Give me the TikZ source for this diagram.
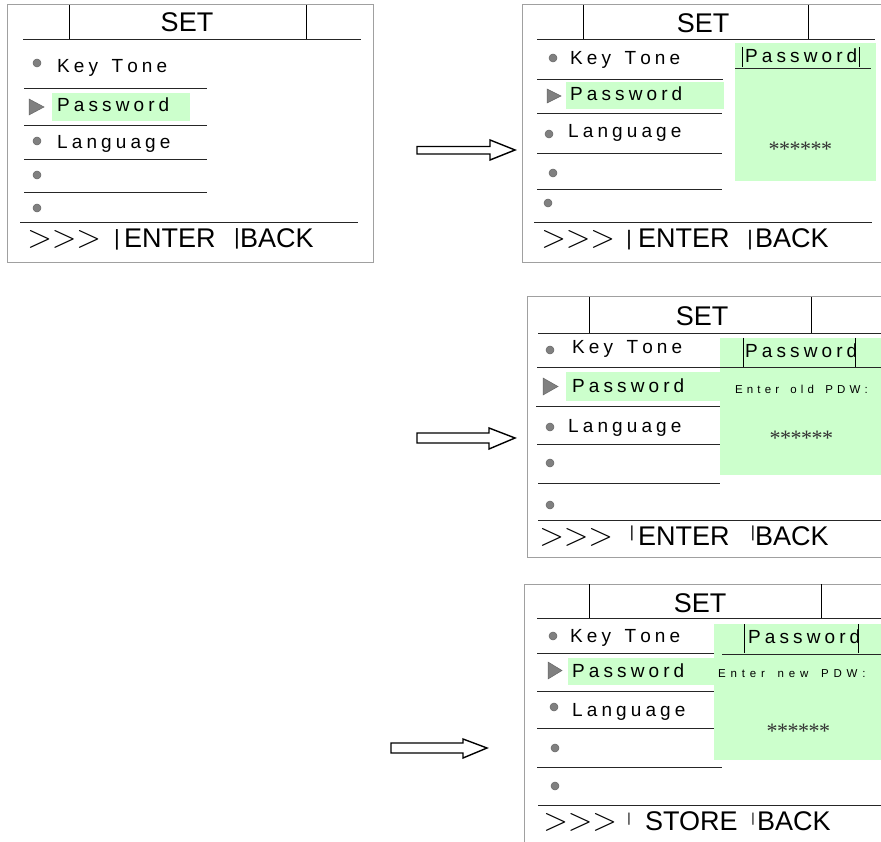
\documentclass[tikz,border=0pt]{standalone}
\usepackage{fontspec}
\setmainfont{Liberation Sans}
\newfontfamily\arialf{Liberation Sans}
\newfontfamily\timesf{Liberation Serif}
\newdimen\trkd
\def\spaced#1#2{\trkd=#1\relax\spcloop#2\relax}
\def\spcloop#1{\ifx#1\relax\else#1\kern\trkd\expandafter\spcloop\fi}
\definecolor{hl}{HTML}{CCFFCC}
\definecolor{bul}{HTML}{808080}
\definecolor{frm}{HTML}{A0A0A0}
\tikzset{
  menu/.style={anchor=base west, inner sep=0pt, font=\arialf\fontsize{19}{19}\selectfont},
  big/.style={anchor=base west, inner sep=0pt, font=\arialf\fontsize{27}{27}\selectfont},
  ttl/.style={anchor=base, inner sep=0pt, font=\arialf\fontsize{27}{27}\selectfont},
  barsep/.style={anchor=base, inner sep=0pt, font=\arialf\fontsize{#1}{#1}\selectfont},
  chev/.style={anchor=base west, inner sep=0pt, scale=1.3, font=\fontsize{24.88}{24.88}\selectfont},
  small/.style={anchor=base west, inner sep=0pt, font=\arialf\fontsize{11.5}{11.5}\selectfont},
  stars/.style={anchor=base, inner sep=0pt, text=black!80, font=\timesf\fontsize{22}{22}\selectfont},
  frame/.style={draw=frm, line width=1pt},
  rule/.style={draw=black!85, line width=0.9pt},
  thin/.style={draw=black, line width=0.8pt},
  dot/.style={fill=bul, draw=black!60, line width=0.5pt},
  hlbox/.style={fill=hl},
  bigarrow/.style={draw=black, line width=1.4pt, fill=white, line join=miter}
}
\newcommand\mnukey{\spaced{4.1pt}{Key~Tone}}
\newcommand\mnupw{\spaced{4.1pt}{Password}}
\newcommand\mnulang{\spaced{4.1pt}{Language}}
\newcommand\mnustars{\spaced{-0.5pt}{******}}
\begin{document}
\begin{tikzpicture}[x=1pt,y=-1pt]
\useasboundingbox (0,0) rectangle (881,842);
\fill[white] (0,0) rectangle (881,842);

% ================= Panel 1 =================
\draw[frame] (7,5) rectangle (373,263);
\draw[thin] (69,5) -- (69,39) (306,5) -- (306,39);
\draw[rule] (23,39) -- (361,39);
\node[ttl] (p1set) at (187,32) {SET};
\fill[hlbox] (52,93) rectangle (190,121);
\draw[dot] (37,63) circle (4pt);
\node[menu] (p1key) at (57,73) {\mnukey};
\draw[rule] (24,88) -- (207,88);
\filldraw[dot] (29,99) -- (44,107) -- (29,115) -- cycle;
\node[menu] (p1pw) at (57,112) {\mnupw};
\draw[rule] (24,125) -- (207,125);
\draw[dot] (37,141) circle (4pt);
\node[menu] (p1lang) at (57,149) {\mnulang};
\draw[rule] (24,159) -- (207,159);
\draw[dot] (37,175) circle (4pt);
\draw[rule] (24,192) -- (207,192);
\draw[dot] (37,208) circle (4pt);
\draw[rule] (20,222) -- (358,222);
\node[chev] (p1chev) at (27,248) {${>}{>}{>}$};
\node[barsep=22] (p1s1) at (117,246) {|};
\node[big] (p1enter) at (124,248) {ENTER};
\node[barsep=22] (p1s2) at (237,245) {|};
\node[big] (p1back) at (240,248) {BACK};

% ================= Panel 2 =================
\draw[frame] (881,5) -- (522,5) -- (522,263) -- (881,263);
\draw[thin] (583,5) -- (583,39) (808,5) -- (808,39);
\draw[rule] (537,39) -- (875,39);
\node[ttl] (p2set) at (703,33) {SET};
\fill[hlbox] (566,82) rectangle (724,109);
\draw[dot] (553,58) circle (4pt);
\node[menu] (p2key) at (570,65) {\mnukey};
\draw[rule] (537,79) -- (723,79);
\filldraw[dot] (547,89) -- (561,96) -- (547,103) -- cycle;
\node[menu] (p2pw) at (570,101) {\mnupw};
\draw[rule] (537,113) -- (722,113);
\draw[dot] (549,134) circle (4pt);
\node[menu] (p2lang) at (568,138) {\mnulang};
\draw[rule] (537,153) -- (722,153);
\draw[dot] (553,173) circle (4pt);
\draw[rule] (537,189) -- (722,189);
\draw[dot] (548,203) circle (4pt);
\draw[rule] (534,222) -- (872,222);
\node[chev] (p2chev) at (541,248) {${>}{>}{>}$};
\node[barsep=21] (p2s1) at (629,245.5) {|};
\node[big] (p2enter) at (638,248) {ENTER};
\node[barsep=21] (p2s2) at (750,245.5) {|};
\node[big] (p2back) at (755,248) {BACK};
% popup
\fill[hlbox] (735,43) rectangle (876,181);
\node[menu] (p2ppw) at (745,63) {\mnupw};
\draw[thin] (742,47) -- (742,67) (859,47) -- (859,67);
\draw[rule] (735,68) -- (871,68);
\node[stars] (p2star) at (800,157) {\mnustars};

% ================= Panel 3 =================
\draw[frame] (881,297) -- (527,297) -- (527,557) -- (881,557);
\draw[thin] (589,297) -- (589,333) (811,297) -- (811,333);
\draw[rule] (538,333) -- (881,333);
\node[ttl] (p3set) at (702,326) {SET};
\fill[hlbox] (566,372) rectangle (720,401);
\draw[dot] (550,350) circle (4pt);
\node[menu] (p3key) at (572,353) {\mnukey};
\draw[rule] (537,367) -- (720,367);
\filldraw[dot] (543,378) -- (558,386.5) -- (543,395) -- cycle;
\node[menu] (p3pw) at (572,392) {\mnupw};
\draw[rule] (536,406) -- (720,406);
\draw[dot] (550,427) circle (4pt);
\node[menu] (p3lang) at (568,432) {\mnulang};
\draw[rule] (537,444) -- (720,444);
\draw[dot] (550,463) circle (4pt);
\draw[rule] (538,483) -- (720,483);
\draw[dot] (550,505) circle (4pt);
\draw[rule] (538,520) -- (881,520);
\node[chev] (p3chev) at (539,545) {${>}{>}{>}$};
\node[barsep=16] (p3s1) at (632,537) {|};
\node[big] (p3enter) at (638,545) {ENTER};
\node[barsep=16] (p3s2) at (753,537) {|};
\node[big] (p3back) at (755,545) {BACK};
% popup
\fill[hlbox] (720,338) rectangle (881,475);
\node[menu] (p3ppw) at (745,358) {\mnupw};
\draw[thin] (743,338) -- (743,367) (855,338) -- (855,367);
\draw[rule] (720,367) -- (881,367);
\node[small] (p3old) at (735,393) {\spaced{4.1pt}{Enter~old~PDW:}};
\node[stars] (p3star) at (801,445) {\mnustars};

% ================= Panel 4 =================
\draw[frame] (881,584) -- (524,584) -- (524,842);
\draw[thin] (589,584) -- (589,618) (821,584) -- (821,618);
\draw[rule] (537,618) -- (881,618);
\node[ttl] (p4set) at (700,612) {SET};
\fill[hlbox] (568,658) rectangle (714,685);
\draw[dot] (553,636) circle (4pt);
\node[menu] (p4key) at (570,642) {\mnukey};
\draw[rule] (537,653) -- (714,653);
\filldraw[dot] (548,662) -- (562,670.5) -- (548,679) -- cycle;
\node[menu] (p4pw) at (572,677) {\mnupw};
\draw[rule] (537,691) -- (714,691);
\draw[dot] (554,707) circle (4pt);
\node[menu] (p4lang) at (572,716) {\mnulang};
\draw[rule] (537,728) -- (714,728);
\draw[dot] (555,748) circle (4pt);
\draw[rule] (537,767) -- (722,767);
\draw[dot] (555,786) circle (4pt);
\draw[rule] (538,805) -- (881,805);
\node[chev] (p4chev) at (543,830) {${>}{>}{>}$};
\node[barsep=13] (p4s1) at (629,822) {|};
\node[big] (p4store) at (645,830) {STORE};
\node[barsep=13] (p4s2) at (753,822) {|};
\node[big] (p4back) at (757,830) {BACK};
% popup
\fill[hlbox] (714,624) rectangle (881,760);
\node[menu] (p4ppw) at (748,643) {\mnupw};
\draw[thin] (744,624) -- (744,653) (858,624) -- (858,653);
\draw[rule] (722,654) -- (881,654);
\node[small] (p4new) at (718,677) {\spaced{4.8pt}{Enter~new~PDW:}};
\node[stars] (p4star) at (798,738) {\mnustars};

% ================= Arrows =================
\draw[bigarrow] (417,146.5) -- (490,146.5) -- (490,140) -- (515,150) -- (490,160) -- (490,154) -- (417,154) -- cycle;
\draw[bigarrow] (417,433) -- (489,433) -- (489,428) -- (515,438) -- (489,449) -- (489,443) -- (417,443) -- cycle;
\draw[bigarrow] (391,743) -- (463,743) -- (463,739) -- (487,748) -- (463,758) -- (463,753) -- (391,753) -- cycle;
\end{tikzpicture}
\end{document}
